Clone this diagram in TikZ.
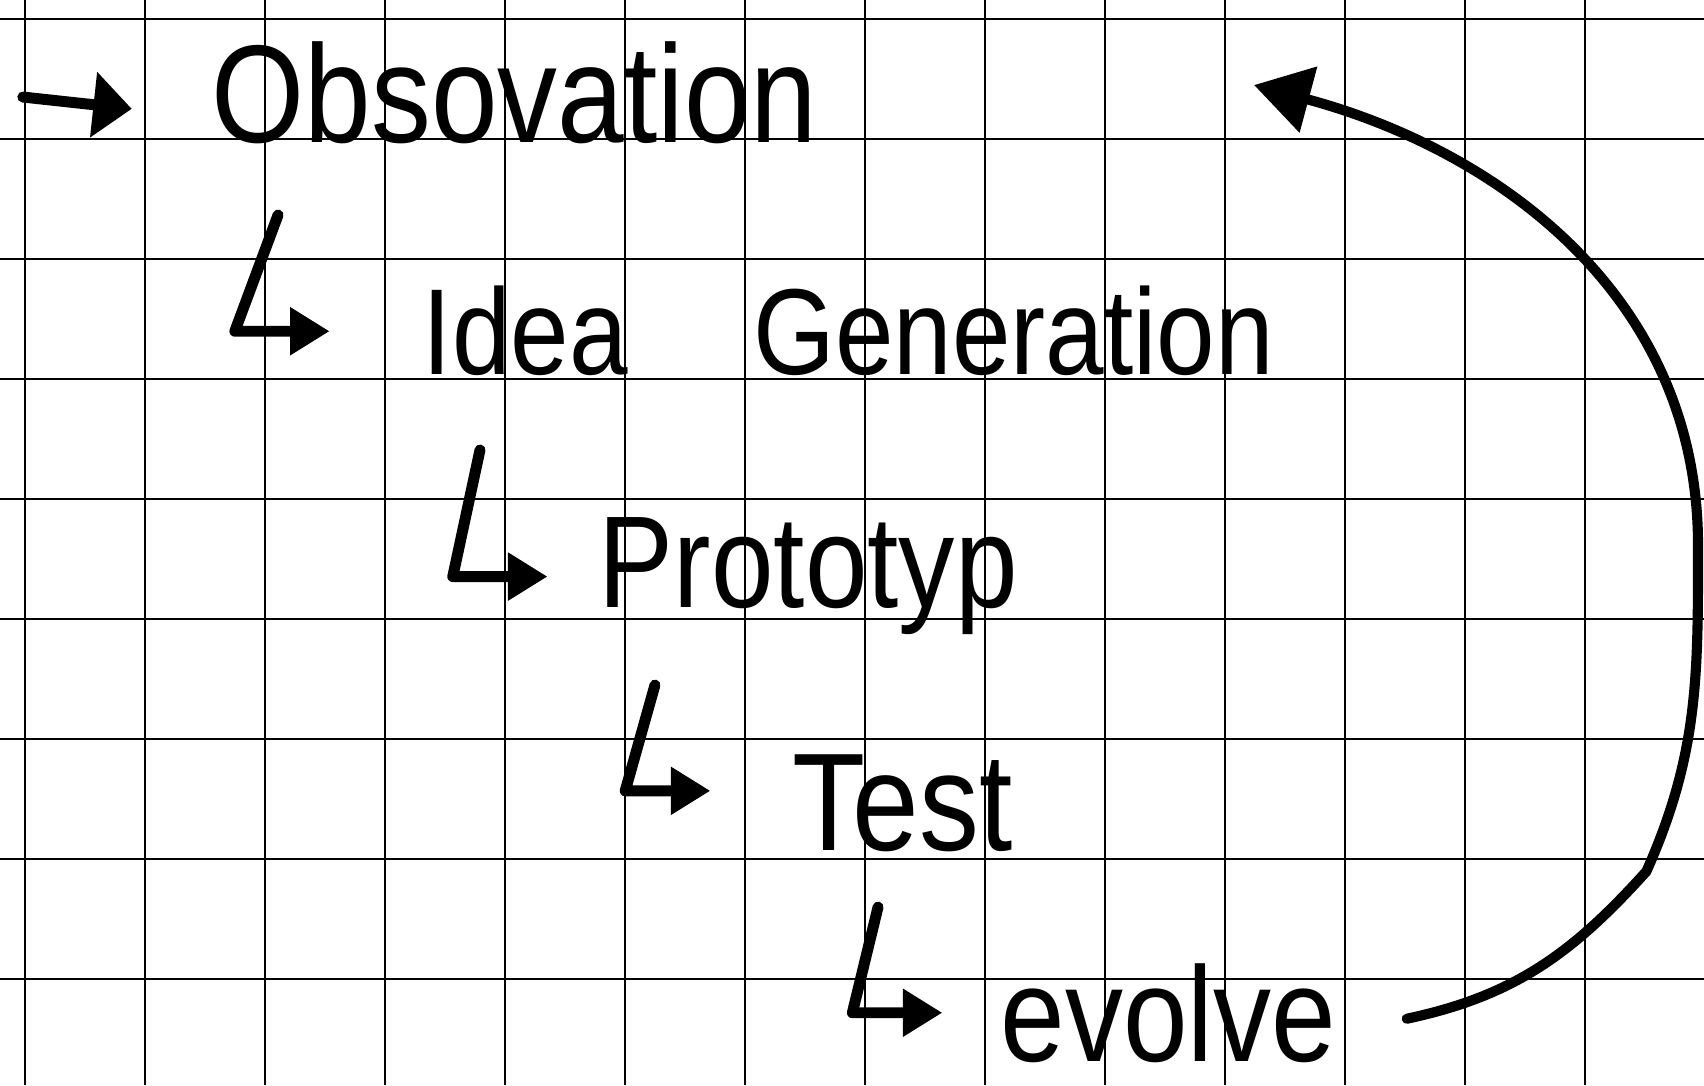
\documentclass[tikz,border=0pt]{standalone}
\usepackage{fontspec}
\newfontfamily\hand{Liberation Sans}[FakeStretch=0.86]
\usetikzlibrary{arrows.meta}

\begin{document}
\begin{tikzpicture}[
    gridline/.style={
        line width=0.6pt,
        color=black
    },
    stagetext/.style={
        font={\hand\fontsize{#1}{#1}\selectfont},
        anchor=base west,
        inner sep=0pt
    },
    startarrow/.style={
        -{Triangle[length=3.2mm, width=5.3mm]},
        line width=2.6pt,
        line cap=round
    },
    hookarrow/.style={
        -{Triangle[length=3.3mm, width=3.8mm]},
        line width=2.6pt,
        line cap=round,
        line join=round
    },
    backarrow/.style={
        -{Triangle[length=4.7mm, width=5.5mm]},
        line width=2.4pt,
        line cap=round
    }
]

% paper with grid
\fill[white] (0,0) rectangle (14.2,9.0417);
\useasboundingbox (0,0) rectangle (14.2,9.0417);
\foreach \x in {0,...,13}
    \draw[gridline] (\x+0.2083,0) -- (\x+0.2083,9.0417);
\foreach \y in {0,...,8}
    \draw[gridline] (0,\y+0.8833) -- (14.2,\y+0.8833);

% steps
\node[stagetext=33] (obs) at (1.758,7.85) {Obsovation};
\node[stagetext=29] (idea) at (3.517,5.917) {Idea\hspace{1.05cm}Generation};
\node[stagetext=31] (proto) at (4.983,3.975) {Prototyp};
\node[stagetext=33] (test) at (6.6,1.958) {Test};
\node[stagetext=32] (evolve) at (8.333,0.2) {evolve};

% free ends
\coordinate (start) at (0.19,8.233);
\coordinate (h1) at (2.317,7.25);
\coordinate (h2) at (4.0,5.292);
\coordinate (h3) at (5.458,3.333);
\coordinate (h4) at (7.317,1.483);
\coordinate (loopend) at (10.45,8.333);

% arrows down the steps
\draw[startarrow] (start) -- ([xshift=-6.6mm, yshift=-1.3mm]obs.west);
\draw[hookarrow] (h1) -- ([xshift=-15.6mm]idea.west) -- ([xshift=-7.7mm]idea.west);
\draw[hookarrow] (h2) -- ([xshift=-12.1mm]proto.west) -- ([xshift=-4.2mm]proto.west);
\draw[hookarrow] (h3) -- ([xshift=-13.9mm, yshift=1mm]test.west) -- ([xshift=-6.8mm, yshift=1mm]test.west);
\draw[hookarrow] (h4) -- ([xshift=-12.3mm]evolve.west) -- ([xshift=-4.8mm]evolve.west);

% back to the top
\draw[backarrow] ([xshift=5.8mm, yshift=-0.5mm]evolve.east) to[out=12, in=228] (13.72,1.78)
    to[out=66, in=-90] (14.15,4.5) to[out=90, in=-15] (loopend);

\end{tikzpicture}
\end{document}
